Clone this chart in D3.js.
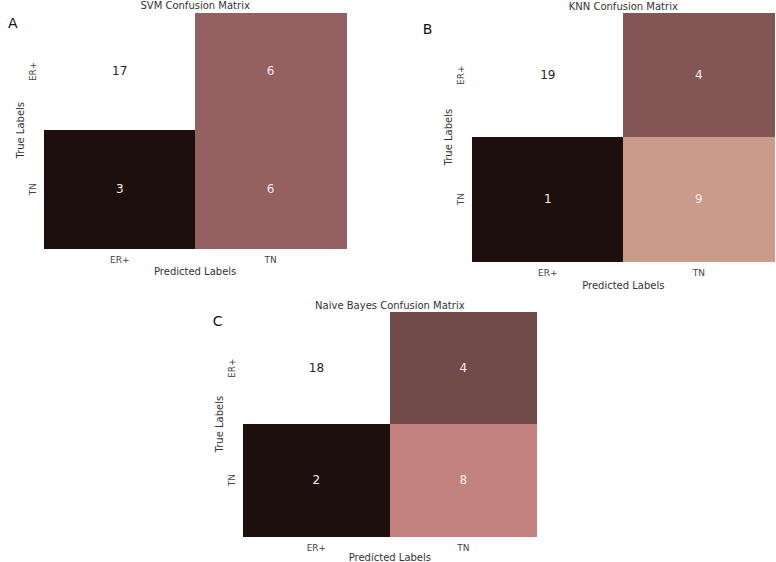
<!DOCTYPE html>
<html>
<head>
<meta charset="utf-8">
<script src="https://cdn.jsdelivr.net/npm/d3@7"></script>
<style>
  html, body { margin: 0; padding: 0; background: #fff; }
  svg { display: block; font-family: "DejaVu Sans", sans-serif; }
</style>
</head>
<body>
<svg id="chart" width="776" height="562"></svg>
<script>
// ---- data ----
const classLabels = ["ER+", "TN"];
const modelTitles = ["SVM Confusion Matrix", "KNN Confusion Matrix", "Naive Bayes Confusion Matrix"];
const panelLetters = ["A", "B", "C"];
const svmValues = [[17, 6], [3, 6]];
const knnValues = [[19, 4], [1, 9]];
const nbValues  = [[18, 4], [2, 8]];
const xAxisLabel = "Predicted Labels";
const yAxisLabel = "True Labels";

// ---- layout (positions only) ----
const panels = [
  { values: svmValues, x0: 44.3, x1: 346, y0: 12.5, y1: 248, xlab: 23.5, letter: [8, 23] },
  { values: knnValues, x0: 472.3, x1: 774.3, y0: 13.3, y1: 261, xlab: 24, letter: [422.7, 29] },
  { values: nbValues, x0: 243, x1: 536.7, y0: 312.3, y1: 536, xlab: 21.5, letter: [212.7, 321] }
];

// matplotlib "pink" colormap
function pinkColor(t) {
  t = Math.max(0, Math.min(1, t));
  const hr = Math.min(1, t / 0.365079);
  const hg = Math.max(0, Math.min(1, (t - 0.365079) / (0.746032 - 0.365079)));
  const hb = Math.max(0, Math.min(1, (t - 0.746032) / (1 - 0.746032)));
  const r = Math.sqrt((2 * t + hr) / 3);
  const g = Math.sqrt((2 * t + hg) / 3);
  const b = Math.sqrt((2 * t + hb) / 3);
  return d3.rgb(Math.max(30, r * 255), Math.max(15, g * 255), Math.max(15, b * 255));
}

function relLum(c) {
  const f = v => { v = v / 255; return v <= 0.03928 ? v / 12.92 : Math.pow((v + 0.055) / 1.055, 2.4); };
  return 0.2126 * f(c.r) + 0.7152 * f(c.g) + 0.0722 * f(c.b);
}

const svg = d3.select("#chart");

panels.forEach((p, i) => {
  const g = svg.append("g");
  const x = d3.scaleBand().domain(classLabels).range([p.x0, p.x1]).padding(0);
  const y = d3.scaleBand().domain(classLabels).range([p.y0, p.y1]).padding(0);
  const flat = [];
  p.values.forEach((row, ri) => row.forEach((v, ci) => flat.push({ r: classLabels[ri], c: classLabels[ci], v })));
  const ext = d3.extent(flat, d => d.v);
  const color = d3.scaleSequential(pinkColor).domain(ext);

  g.selectAll("rect.cell").data(flat).join("rect")
    .attr("class", "cell")
    .attr("x", d => x(d.c))
    .attr("y", d => y(d.r))
    .attr("width", x.bandwidth() + 0.6)
    .attr("height", y.bandwidth() + 0.6)
    .attr("shape-rendering", "crispEdges")
    .attr("fill", d => color(d.v));

  g.selectAll("text.ann").data(flat).join("text")
    .attr("class", "ann")
    .attr("x", d => x(d.c) + x.bandwidth() / 2)
    .attr("y", d => y(d.r) + y.bandwidth() / 2)
    .attr("text-anchor", "middle")
    .attr("dominant-baseline", "central")
    .attr("font-size", 12)
    .attr("fill", d => relLum(d3.rgb(color(d.v))) < 0.408 ? "#f5ecec" : "#262626")
    .text(d => d.v);

  // x tick labels
  g.selectAll("text.xt").data(classLabels).join("text")
    .attr("class", "xt")
    .attr("x", d => x(d) + x.bandwidth() / 2)
    .attr("y", p.y1 + 11.5)
    .attr("text-anchor", "middle")
    .attr("dominant-baseline", "central")
    .attr("font-size", 9)
    .attr("fill", "#444")
    .text(d => d);

  // y tick labels
  g.selectAll("text.yt").data(classLabels).join("text")
    .attr("class", "yt")
    .attr("transform", d => `translate(${p.x0 - 11.5},${y(d) + y.bandwidth() / 2}) rotate(-90)`)
    .attr("text-anchor", "middle")
    .attr("dominant-baseline", "central")
    .attr("font-size", 9)
    .attr("fill", "#444")
    .text(d => d);

  // axis labels
  g.append("text")
    .attr("x", (p.x0 + p.x1) / 2)
    .attr("y", p.y1 + p.xlab)
    .attr("text-anchor", "middle")
    .attr("dominant-baseline", "central")
    .attr("font-size", 10)
    .attr("fill", "#333")
    .text(xAxisLabel);

  g.append("text")
    .attr("transform", `translate(${p.x0 - 23.5},${(p.y0 + p.y1) / 2}) rotate(-90)`)
    .attr("text-anchor", "middle")
    .attr("dominant-baseline", "central")
    .attr("font-size", 10)
    .attr("fill", "#333")
    .text(yAxisLabel);

  // title
  g.append("text")
    .attr("x", (p.x0 + p.x1) / 2)
    .attr("y", p.y0 - 7)
    .attr("text-anchor", "middle")
    .attr("dominant-baseline", "central")
    .attr("font-size", 10)
    .attr("fill", "#333")
    .text(modelTitles[i]);

  // panel letter
  g.append("text")
    .attr("x", p.letter[0])
    .attr("y", p.letter[1])
    .attr("dominant-baseline", "central")
    .attr("font-size", 14)
    .attr("fill", "#111")
    .text(panelLetters[i]);
});
</script>
</body>
</html>
